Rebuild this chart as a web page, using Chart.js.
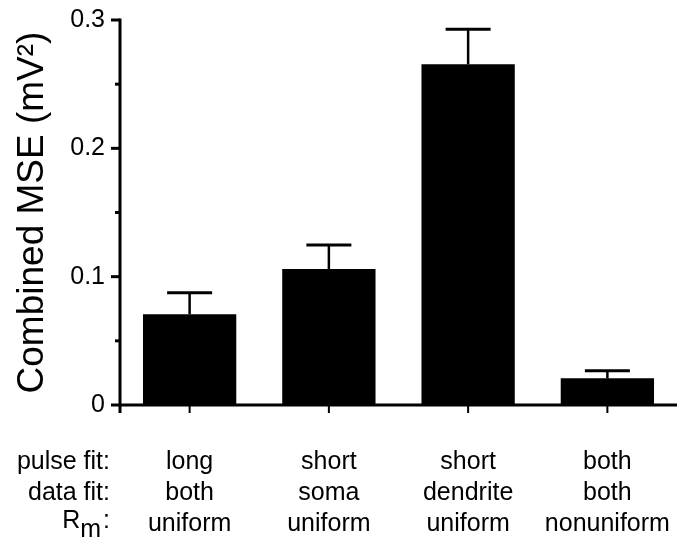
<!DOCTYPE html>
<html>
<head>
<meta charset="utf-8">
<script src="https://cdn.jsdelivr.net/npm/chart.js@4/dist/chart.umd.min.js"></script>
<style>
  html, body { margin: 0; padding: 0; background: #fff; }
  #wrap { position: relative; width: 692px; height: 541px; }
</style>
</head>
<body>
<div id="wrap"><canvas id="chart"></canvas></div>
<script>
// condition rows under each bar
const pulseFit = ["long", "short", "short", "both"];
const dataFit  = ["both", "soma", "dendrite", "both"];
const rmType   = ["uniform", "uniform", "uniform", "nonuniform"];
const rowTitles = ["pulse fit:", "data fit:"];

// bar heights and upper error (mV^2)
const meanMSE = [0.0707, 0.1060, 0.2655, 0.0208];
const semMSE  = [0.0168, 0.0187, 0.0272, 0.0059];

// y axis
const yMin = 0, yMax = 0.3, yStep = 0.05;
const yTitle = "Combined MSE (mV\u00B2)";

const FONT = '"Liberation Sans", Arial, Helvetica, sans-serif';

const $ = (id) => document.getElementById(id);

function seg(ctx, x1, y1, x2, y2){
  ctx.beginPath();
  ctx.moveTo(x1, y1);
  ctx.lineTo(x2, y2);
  ctx.stroke();
}

// axes, tick marks, error bars and the label table under the plot
const decor = {
  id: "decor",
  afterDatasetsDraw(chart){
    const {ctx, chartArea: a, scales: {x, y}} = chart;
    const y0 = y.getPixelForValue(0);
    ctx.save();
    ctx.strokeStyle = "#000";
    ctx.fillStyle = "#000";
    ctx.lineCap = "butt";

    // error bars (upper only)
    chart.getDatasetMeta(0).data.forEach((bar, i) => {
      const top = y.getPixelForValue(meanMSE[i] + semMSE[i]);
      ctx.lineWidth = 2.5;
      seg(ctx, bar.x, bar.y, bar.x, top);
      ctx.lineWidth = 3;
      seg(ctx, bar.x - 22.5, top, bar.x + 22.5, top);
    });

    // axis lines
    ctx.lineWidth = 3;
    seg(ctx, a.left, y.getPixelForValue(yMax) - 1.5, a.left, y0 + 8);
    seg(ctx, a.left, y0, a.right, y0);

    // y ticks: long where labelled, short in between
    y.ticks.forEach(t => {
      const py = y.getPixelForValue(t.value);
      const len = t.label !== "" ? 9 : 5;
      seg(ctx, a.left - len, py, a.left, py);
    });

    // x ticks hanging under the axis
    ctx.lineWidth = 2;
    pulseFit.forEach((_, i) => {
      const px = x.getPixelForValue(i);
      seg(ctx, px, y0, px, y0 + 8);
    });

    // label table
    const rows = [pulseFit, dataFit, rmType];
    const base = [y0 + 64, y0 + 95, y0 + 126];
    ctx.font = "25px " + FONT;
    ctx.textBaseline = "alphabetic";
    ctx.textAlign = "center";
    rows.forEach((row, r) => {
      row.forEach((txt, i) => ctx.fillText(txt, x.getPixelForValue(i), base[r]));
    });

    const right = a.left - 10;
    ctx.textAlign = "right";
    rowTitles.forEach((t, r) => ctx.fillText(t, right, base[r]));

    // R_m: with subscript m
    const colonW = ctx.measureText(":").width + 2;
    ctx.fillText(":", right, base[2] - 3);
    const mW = ctx.measureText("m").width;
    ctx.fillText("m", right - colonW, base[2] + 6);
    ctx.fillText("R", right - colonW - mW, base[2] - 3);

    ctx.restore();
  }
};

function buildChart(){
  const ctx = $("chart").getContext("2d");
  return new Chart(ctx, {
    type: "bar",
    data: {
      labels: pulseFit,
      datasets: [{
        data: meanMSE,
        backgroundColor: "#000",
        borderWidth: 0,
        categoryPercentage: 1,
        barPercentage: 0.67
      }]
    },
    options: {
      responsive: true,
      maintainAspectRatio: false,
      animation: false,
      layout: { padding: { left: 0, top: 20, right: 15, bottom: 136 } },
      plugins: {
        legend: { display: false },
        tooltip: { enabled: false }
      },
      scales: {
        x: { display: false },
        y: {
          min: yMin,
          max: yMax,
          grid: { display: false, drawTicks: false },
          border: { display: false },
          afterFit: (s) => { s.width = 120; s.paddingTop = 0; s.paddingBottom = 0; },
          ticks: {
            stepSize: yStep,
            padding: 15,
            color: "#000",
            font: { family: FONT, size: 25 },
            callback: (v, i) => (i % 2 === 0 ? String(Number(v.toFixed(1))) : "")
          },
          title: {
            display: true,
            text: yTitle,
            color: "#000",
            font: { family: FONT, size: 37 },
            padding: { top: 11, bottom: 0 }
          }
        }
      }
    },
    plugins: [decor]
  });
}

buildChart();
</script>
</body>
</html>
